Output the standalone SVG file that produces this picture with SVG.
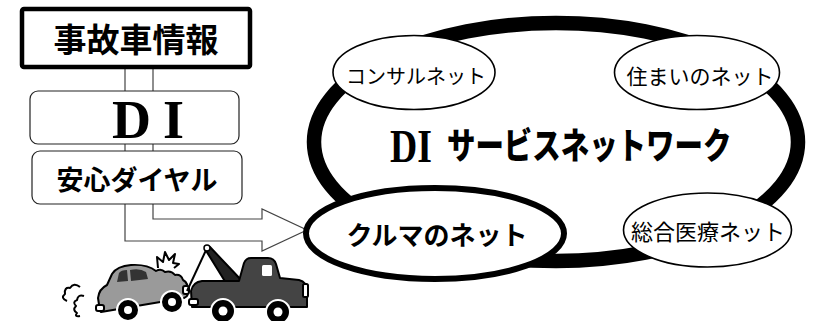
<svg xmlns="http://www.w3.org/2000/svg" width="816" height="321" viewBox="0 0 816 321">
  <style>
    .jp { font-family: "Noto Sans CJK JP", "Noto Sans", sans-serif; fill: #000; }
    .b { font-weight: bold; }
    .box { fill: #fff; stroke: #222; stroke-width: 1.2; }
    .bub { fill: #fff; stroke: #000; stroke-width: 1.6; }
    .ink { stroke: #000; stroke-width: 2; stroke-linejoin: round; }
  </style>
  <rect width="816" height="321" fill="#fff"/>

  <!-- connectors: vertical band turning into the right-pointing arrow -->
  <g id="connectors">
    <path d="M125,68 H153 V219 H262 V209 L307,230 L262,251 V241 H125 Z" fill="#fff" stroke="#444" stroke-width="1.2"/>
  </g>

  <!-- left column -->
  <g id="accident-info">
    <rect x="22" y="9" width="228" height="58" rx="2" fill="#fff" stroke="#000" stroke-width="4.5"/>
    <text class="jp b" x="136" y="52" font-size="33" text-anchor="middle">事故車情報</text>
  </g>
  <g id="di">
    <rect class="box" x="30" y="91" width="209" height="53" rx="8"/>
    <text x="112" y="138" font-family="Liberation Serif, serif" font-weight="bold" font-size="54">D<tspan x="163">I</tspan></text>
  </g>
  <g id="anshin-dial">
    <rect class="box" x="32" y="151" width="210" height="53" rx="8"/>
    <text class="jp b" x="137" y="190" font-size="27" text-anchor="middle">安心ダイヤル</text>
  </g>

  <!-- service network ring -->
  <g id="network">
    <ellipse cx="556" cy="142" rx="242" ry="119" fill="#fff" stroke="#000" stroke-width="14.5"/>
    <text transform="translate(390,162) scale(0.82,1)" font-family="Liberation Serif, serif" font-weight="bold" font-size="46">DI</text>
    <text class="jp" transform="translate(447,159) scale(0.79,1)" font-size="36" font-weight="900">サービスネットワーク</text>
  </g>
  <g id="consul-net">
    <ellipse class="bub" cx="414" cy="72.5" rx="81" ry="37"/>
    <text class="jp" x="416" y="84" font-size="20" text-anchor="middle">コンサルネット</text>
  </g>
  <g id="house-net">
    <ellipse class="bub" cx="697" cy="72.5" rx="82.5" ry="37"/>
    <text class="jp" x="700" y="84" font-size="21" text-anchor="middle">住まいのネット</text>
  </g>
  <g id="car-net">
    <ellipse cx="435" cy="233.5" rx="129" ry="45.5" fill="#fff" stroke="#000" stroke-width="6"/>
    <text class="jp b" x="437" y="245" font-size="26" text-anchor="middle">クルマのネット</text>
  </g>
  <g id="medical-net">
    <ellipse class="bub" cx="707.5" cy="230" rx="84" ry="37"/>
    <text class="jp" x="708" y="240" font-size="22" text-anchor="middle">総合医療ネット</text>
  </g>

  <!-- tow truck pulling a crashed car -->
  <g id="tow-scene">
    <!-- exhaust puffs -->
    <path d="M80,287 Q74,282 70,288 Q64,287 65,294 Q60,298 67,301 M84,296 Q78,294 77,300 Q72,302 76,306 Q72,310 77,313 Q74,317 80,316" fill="none" class="ink" stroke-width="2.2"/>
    <!-- crash burst -->
    <path d="M158,268 L157,257 L163,262 L165,252 L169,260 L175,254 L173,263 L179,264 L174,268" fill="none" class="ink" stroke-width="1.8"/>
    <!-- crashed car -->
    <path d="M100,311 L98,298 Q99,289 107,285 L112,274 Q117,266 131,265 Q147,264 156,271 Q161,268 165,272 Q171,270 175,275 Q181,274 183,280 Q189,283 186,290 Q190,296 184,298 L101,312 Z" fill="#9a9a9a" class="ink" stroke-width="2.5"/>
    <path d="M117,282 L119,273 Q121,270 127,270 L128,281 Z" fill="#333"/>
    <path d="M131,281 L130,270 Q140,268 146,272 L148,279 Z" fill="#333"/>
    <rect x="96" y="305" width="8" height="6" rx="2" fill="#fff" class="ink" stroke-width="1.5"/>
    <rect x="183" y="286" width="6" height="8" rx="2" fill="#fff" class="ink" stroke-width="1.5"/>
    <!-- tow boom and line -->
    <line x1="207" y1="248" x2="187" y2="291" stroke="#000" stroke-width="2"/>
    <path d="M205,249 L210,247 L244,283 L226,283 Z" fill="#222" class="ink" stroke-width="1.5"/>
    <circle cx="207" cy="248" r="3" fill="#fff" stroke="#000" stroke-width="1.5"/>
    <!-- truck -->
    <path d="M192,307 L191,291 Q193,282 202,281 L239,281 L244,263 Q246,258 251,258 L268,258 Q274,258 276,264 L280,278 L299,280 Q307,282 307,291 L307,307 Z" fill="#444" class="ink" stroke-width="2.5"/>
    <rect x="262" y="265" width="10" height="11" rx="1.5" fill="#fff"/>
    <rect x="303" y="284" width="5" height="13" rx="1.5" fill="#fff" class="ink" stroke-width="1.2"/>
    <rect x="189" y="299" width="9" height="6" rx="2" fill="#fff" class="ink" stroke-width="1.2"/>
    <!-- wheels -->
    <g fill="#000" stroke="#fff" stroke-width="2">
      <circle cx="128" cy="310" r="11"/>
      <circle cx="172" cy="302" r="11"/>
      <circle cx="223" cy="311" r="12"/>
      <circle cx="278" cy="312" r="12"/>
    </g>
    <g fill="#fff">
      <circle cx="128" cy="310" r="4"/>
      <circle cx="172" cy="302" r="4"/>
      <circle cx="223" cy="311" r="4.5"/>
      <circle cx="278" cy="312" r="4.5"/>
    </g>
  </g>
</svg>
